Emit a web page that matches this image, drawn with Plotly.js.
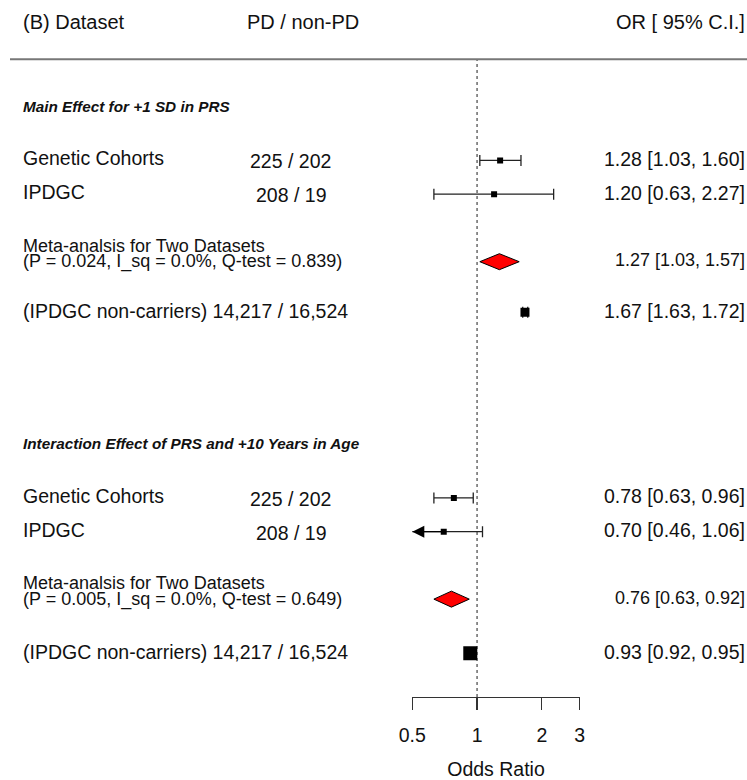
<!DOCTYPE html>
<html>
<head>
<meta charset="utf-8">
<script src="https://cdn.plot.ly/plotly-3.0.1.min.js"></script>
<style>html,body{margin:0;padding:0;background:#fff;}#chart{width:747px;height:780px;}</style>
</head>
<body>
<div id="chart"></div>
<script>
// ---------------- data ----------------
const headerLabels = ["(B) Dataset", "PD / non-PD", "OR [ 95% C.I.]"];
const sectionTitles = ["Main Effect for +1 SD in PRS", "Interaction Effect of PRS and +10 Years in Age"];
const studyLabels = ["Genetic Cohorts", "IPDGC"];
const studyCounts = ["225 / 202", "208 / 19"];
const mainOR = [1.28, 1.20];
const mainLo = [1.03, 0.63];
const mainHi = [1.60, 2.27];
const mainMeta = [1.27, 1.03, 1.57];      // est, lo, hi
const mainMetaStats = "(P = 0.024, I_sq = 0.0%, Q-test = 0.839)";
const mainRef = [1.67, 1.63, 1.72];
const intOR = [0.78, 0.70];
const intLo = [0.63, 0.46];
const intHi = [0.96, 1.06];
const intMeta = [0.76, 0.63, 0.92];
const intMetaStats = "(P = 0.005, I_sq = 0.0%, Q-test = 0.649)";
const intRef = [0.93, 0.92, 0.95];
const metaLabel = "Meta-analsis for Two Datasets";
const refLabel = "(IPDGC non-carriers) 14,217 / 16,524";
const xTicks = [0.5, 1, 2, 3];
const xTickText = ["0.5", "1", "2", "3"];
const xTitle = "Odds Ratio";

// ---------------- layout / style ----------------
const W = 747, H = 780;
const FONT = "Liberation Sans, Arial, Helvetica, sans-serif";
const TXT = "#111";
const blockBase = [16, 6];           // row of first study in each block
const xmin = 0.5, xmax = 3;
const yRange = [0.1, 20.755];
const studyMarkerSize = 6;
const refMarkerSize = [9, 14];
const diamondHalf = 0.237;
const refOffset = [4.5, 4.6];

const fmt = (e, l, h) => e.toFixed(2) + " [" + l.toFixed(2) + ", " + h.toFixed(2) + "]";

const blocks = [
  {title: sectionTitles[0], or: mainOR, lo: mainLo, hi: mainHi, meta: mainMeta, stats: mainMetaStats, ref: mainRef},
  {title: sectionTitles[1], or: intOR, lo: intLo, hi: intHi, meta: intMeta, stats: intMetaStats, ref: intRef}
];

const traces = [];
const annotations = [];
const leftX = 20.7 / W, midX = 290.5 / W, rightX = 746.5 / W;

function ann(text, x, y, anchor, size, extra) {
  return Object.assign({
    text: text, x: x, y: y, xref: "paper", yref: "y", xanchor: anchor, yanchor: "middle",
    showarrow: false, font: {family: FONT, size: size, color: TXT}
  }, extra || {});
}

// dotted reference line at OR = 1
traces.push({x: [1, 1], y: [0.1, 19], mode: "lines", type: "scatter", hoverinfo: "skip",
  line: {color: "#444", width: 1.2, dash: "dot"}, showlegend: false});

// headers
annotations.push(ann(headerLabels[0], leftX, 20.1, "left", 20));
annotations.push(ann(headerLabels[1], 302.5 / W, 20.1, "center", 20));
annotations.push(ann(headerLabels[2], rightX, 20.1, "right", 20));

blocks.forEach((b, bi) => {
  const base = blockBase[bi];
  const rows = [base, base - 1];
  const metaRow = base - 3;
  const refRow = base - refOffset[bi];
  // section title
  annotations.push(ann(b.title, leftX, base + 1.6, "left", 15.3,
    {font: {family: FONT, size: 15.3, color: TXT, weight: "bold", style: "italic"}}));
  // study rows
  rows.forEach((r, i) => {
    annotations.push(ann(studyLabels[i], leftX, r, "left", 19.5, {yshift: 2}));
    annotations.push(ann(studyCounts[i], midX, r, "center", 19.5, {yshift: -1}));
    annotations.push(ann(fmt(b.or[i], b.lo[i], b.hi[i]), rightX, r, "right", 19.5, {yshift: 1.5}));
    if (b.lo[i] < xmin) {
      annotations.push({text: "", x: Math.log10(xmin), y: r, xref: "x", yref: "y",
        ax: Math.log10(b.or[i]), ay: r, axref: "x", ayref: "y", showarrow: true,
        arrowhead: 2, arrowsize: 1.85, arrowwidth: 1.3, arrowcolor: "#000", standoff: 0});
    }
  });
  traces.push({
    type: "scatter", mode: "markers", x: b.or, y: rows, hoverinfo: "skip", showlegend: false,
    marker: {symbol: "square", size: studyMarkerSize, color: "#000"},
    error_x: {type: "data", symmetric: false,
      array: b.or.map((v, i) => b.hi[i] - v), arrayminus: b.or.map((v, i) => v - b.lo[i]),
      width: 5.5, thickness: 1.3, color: "#222"}
  });
  // meta diamond
  const m = b.meta;
  traces.push({
    type: "scatter", mode: "lines", x: [m[1], m[0], m[2], m[0], m[1]],
    y: [metaRow, metaRow + diamondHalf, metaRow, metaRow - diamondHalf, metaRow],
    fill: "toself", fillcolor: "#ff0000", line: {color: "#000", width: 1},
    hoverinfo: "skip", showlegend: false
  });
  annotations.push(ann(metaLabel, leftX, metaRow, "left", 18, {yshift: 16}));
  annotations.push(ann(b.stats, leftX, metaRow, "left", 18, {yshift: 0}));
  annotations.push(ann(fmt(m[0], m[1], m[2]), rightX, metaRow, "right", 18, {yshift: 1.5}));
  // reference row
  const rf = b.ref;
  traces.push({
    type: "scatter", mode: "markers", x: [rf[0]], y: [refRow], hoverinfo: "skip", showlegend: false,
    marker: {symbol: "square", size: refMarkerSize[bi], color: "#000"},
    error_x: {type: "data", symmetric: false, array: [rf[2] - rf[0]], arrayminus: [rf[0] - rf[1]],
      width: 5.5, thickness: 1.3, color: "#222"}
  });
  annotations.push(ann(refLabel, leftX, refRow, "left", 19.5, {yshift: 1}));
  annotations.push(ann(fmt(rf[0], rf[1], rf[2]), rightX, refRow, "right", 19.5, {yshift: 1.5}));
});

const layout = {
  width: W, height: H,
  margin: {l: 0, r: 0, t: 0, b: 83, pad: 0},
  paper_bgcolor: "#fff", plot_bgcolor: "rgba(0,0,0,0)",
  showlegend: false,
  font: {family: FONT, color: TXT},
  xaxis: {
    type: "log", domain: [412.3 / W, 579.7 / W], range: [Math.log10(xmin), Math.log10(xmax)],
    showgrid: false, zeroline: false, showline: true, linecolor: "#333", linewidth: 1.3,
    ticks: "outside", ticklen: 12, tickwidth: 1.3, tickcolor: "#333",
    tickvals: xTicks, ticktext: xTickText, tickfont: {family: FONT, size: 19.5, color: TXT},
    ticklabelstandoff: 8,
    title: {text: xTitle, font: {family: FONT, size: 19.5, color: TXT}, standoff: 18},
    fixedrange: true
  },
  yaxis: {range: yRange, visible: false, fixedrange: true, domain: [0, 1]},
  shapes: [{type: "line", xref: "paper", yref: "y", x0: 10 / W, x1: 1, y0: 19, y1: 19,
    line: {color: "#777", width: 2}}],
  annotations: annotations
};

Plotly.newPlot("chart", traces, layout, {staticPlot: true, displayModeBar: false});
</script>
</body>
</html>
